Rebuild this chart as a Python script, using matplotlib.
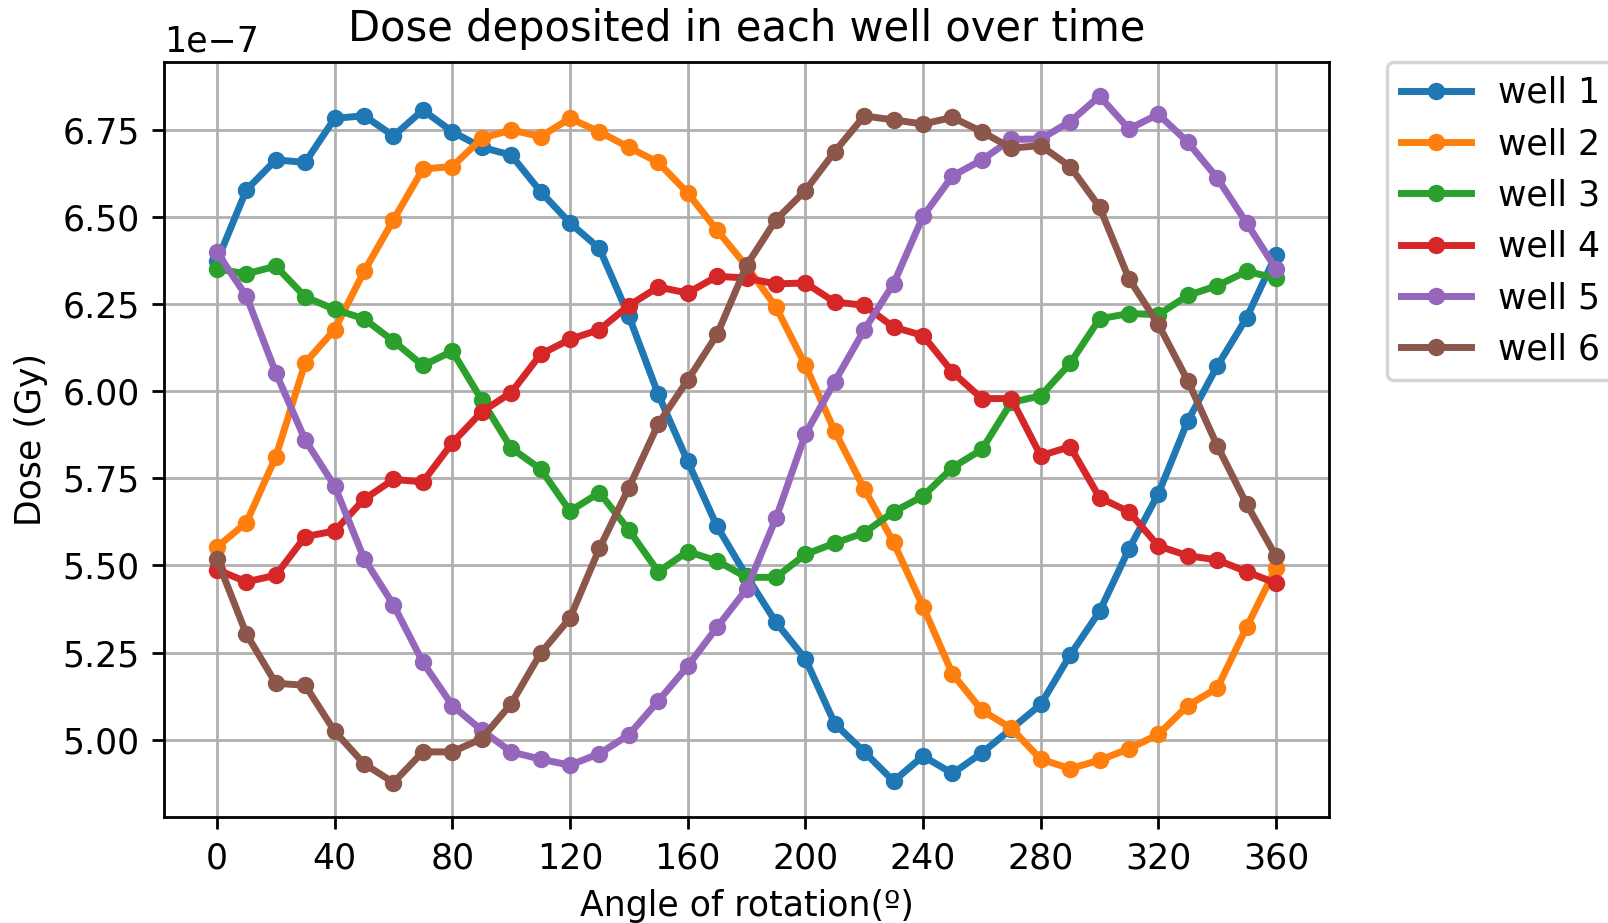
import matplotlib
matplotlib.use('Agg')
import matplotlib.pyplot as plt
import numpy as np

angles = np.arange(0, 361, 10)

# dose per well, in units of 1e-7 Gy
well1 = [6.373, 6.578, 6.664, 6.657, 6.783, 6.791, 6.733, 6.807, 6.745, 6.700,
         6.678, 6.573, 6.483, 6.410, 6.216, 5.991, 5.799, 5.612, 5.470, 5.337,
         5.232, 5.046, 4.965, 4.881, 4.953, 4.903, 4.962, 5.031, 5.101, 5.243,
         5.368, 5.547, 5.706, 5.915, 6.072, 6.211, 6.392]
well2 = [5.553, 5.623, 5.812, 6.082, 6.177, 6.344, 6.492, 6.638, 6.645, 6.726,
         6.750, 6.731, 6.783, 6.745, 6.700, 6.657, 6.569, 6.462, 6.359, 6.242,
         6.075, 5.885, 5.720, 5.566, 5.382, 5.189, 5.084, 5.033, 4.944, 4.917,
         4.941, 4.974, 5.015, 5.098, 5.148, 5.323, 5.494]
well3 = [6.351, 6.337, 6.359, 6.271, 6.235, 6.208, 6.144, 6.074, 6.115, 5.975,
         5.837, 5.777, 5.656, 5.709, 5.602, 5.482, 5.540, 5.513, 5.466, 5.466,
         5.532, 5.564, 5.594, 5.654, 5.699, 5.781, 5.833, 5.968, 5.987, 6.080,
         6.208, 6.223, 6.220, 6.275, 6.303, 6.344, 6.325]
well4 = [5.488, 5.453, 5.472, 5.583, 5.599, 5.690, 5.747, 5.740, 5.852, 5.941,
         5.996, 6.106, 6.149, 6.177, 6.246, 6.299, 6.282, 6.330, 6.325, 6.308,
         6.311, 6.256, 6.247, 6.184, 6.160, 6.055, 5.979, 5.979, 5.815, 5.841,
         5.695, 5.654, 5.556, 5.528, 5.516, 5.482, 5.449]
well5 = [6.399, 6.273, 6.053, 5.860, 5.728, 5.520, 5.387, 5.222, 5.098, 5.027,
         4.965, 4.944, 4.927, 4.960, 5.014, 5.111, 5.211, 5.323, 5.432, 5.635,
         5.877, 6.028, 6.176, 6.309, 6.502, 6.618, 6.664, 6.723, 6.724, 6.774,
         6.847, 6.753, 6.795, 6.715, 6.612, 6.483, 6.351]
well6 = [5.518, 5.303, 5.162, 5.156, 5.024, 4.931, 4.877, 4.965, 4.965, 5.003,
         5.103, 5.248, 5.349, 5.549, 5.723, 5.906, 6.032, 6.163, 6.361, 6.492,
         6.576, 6.688, 6.790, 6.779, 6.767, 6.786, 6.745, 6.698, 6.705, 6.645,
         6.529, 6.323, 6.192, 6.030, 5.844, 5.676, 5.526]

wells = [well1, well2, well3, well4, well5, well6]
labels = ['well 1', 'well 2', 'well 3', 'well 4', 'well 5', 'well 6']

fig = plt.figure(figsize=(6.432, 3.692), dpi=250)
ax = fig.add_axes([0.102, 0.115, 0.7245, 0.818])
for dose, lab in zip(wells, labels):
    ax.plot(angles, np.array(dose) * 1e-7, marker='o', markersize=4,
            linewidth=2, label=lab)
ax.set_xticks(np.arange(0, 361, 40))
ax.grid(True)
ax.set_title('Dose deposited in each well over time', fontsize=12)
ax.set_xlabel('Angle of rotation(º)')
ax.set_ylabel('Dose (Gy)')
ax.legend(bbox_to_anchor=(1.05, 1), loc='upper left', borderaxespad=0.)

fig.savefig('out.png', dpi=250)
